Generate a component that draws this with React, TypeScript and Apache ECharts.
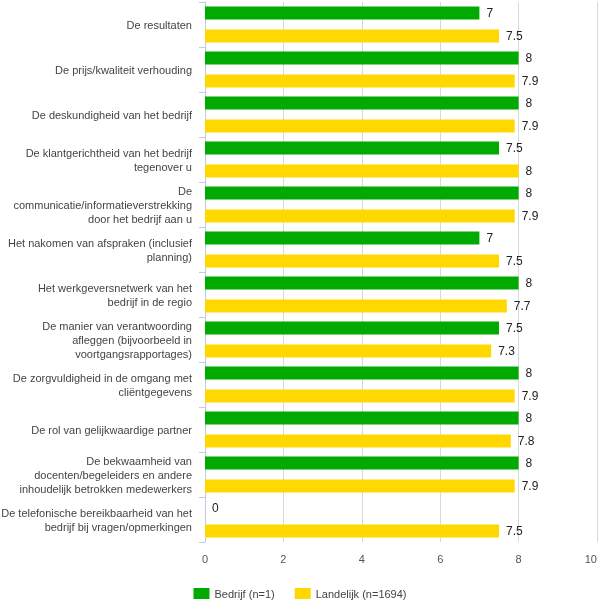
import React, { useEffect, useRef } from "react";
import * as echarts from "echarts";

const categories = [
  "De resultaten",
  "De prijs/kwaliteit verhouding",
  "De deskundigheid van het bedrijf",
  "De klantgerichtheid van het bedrijf\ntegenover u",
  "De\ncommunicatie/informatieverstrekking\ndoor het bedrijf aan u",
  "Het nakomen van afspraken (inclusief\nplanning)",
  "Het werkgeversnetwerk van het\nbedrijf in de regio",
  "De manier van verantwoording\nafleggen (bijvoorbeeld in\nvoortgangsrapportages)",
  "De zorgvuldigheid in de omgang met\ncliëntgegevens",
  "De rol van gelijkwaardige partner",
  "De bekwaamheid van\ndocenten/begeleiders en andere\ninhoudelijk betrokken medewerkers",
  "De telefonische bereikbaarheid van het\nbedrijf bij vragen/opmerkingen",
];

const bedrijf = [7, 8, 8, 7.5, 8, 7, 8, 7.5, 8, 8, 8, 0];
const landelijk = [7.5, 7.9, 7.9, 8, 7.9, 7.5, 7.7, 7.3, 7.9, 7.8, 7.9, 7.5];

const seriesNames = ["Bedrijf (n=1)", "Landelijk (n=1694)"];
const xTicks = ["0", "2", "4", "6", "8", "10"];

export default function App() {
  const ref = useRef<HTMLDivElement>(null);
  useEffect(() => {
    if (!ref.current) return;
    const chart = echarts.init(ref.current, undefined, { renderer: "svg" });
    const font = "Arial, 'Liberation Sans', sans-serif";
    const labelStyle = {
      show: true,
      position: "right" as const,
      distance: 7,
      color: "#222",
      fontSize: 12,
      fontFamily: font,
    };
    chart.setOption({
      animation: false,
      textStyle: { fontFamily: font },
      grid: {
        left: 205,
        right: 3,
        top: 2,
        bottom: 62,
        containLabel: false,
        outerBoundsMode: "none",
      },
      xAxis: {
        type: "value",
        min: 0,
        max: 10,
        interval: 2,
        axisLine: { show: false },
        axisTick: { show: false },
        axisLabel: {
          color: "#555",
          fontSize: 11,
          margin: 11,
          fontFamily: font,
          alignMaxLabel: "right",
          formatter: (v: number) => xTicks[Math.round(v / 2)] ?? String(v),
        },
        splitLine: { show: true, lineStyle: { color: "#d8d8d8", width: 1 } },
      },
      yAxis: {
        type: "category",
        inverse: true,
        data: categories,
        axisLine: { show: true, lineStyle: { color: "#c0cbdc", width: 1 } },
        axisTick: { show: true, length: 6, lineStyle: { color: "#c0cbdc" } },
        axisLabel: {
          color: "#444",
          fontSize: 11,
          lineHeight: 14,
          margin: 13,
          align: "right",
          fontFamily: font,
        },
      },
      legend: {
        left: "center",
        top: 583,
        itemWidth: 16,
        itemHeight: 11,
        itemGap: 20,
        icon: "rect",
        textStyle: { color: "#444", fontSize: 11, fontFamily: font },
        data: seriesNames,
      },
      series: [
        {
          name: seriesNames[0],
          type: "bar",
          data: bedrijf,
          barWidth: 13,
          barGap: "77%",
          itemStyle: { color: "#00aa00" },
          label: labelStyle,
        },
        {
          name: seriesNames[1],
          type: "bar",
          data: landelijk,
          barWidth: 13,
          barGap: "77%",
          itemStyle: { color: "#ffd800" },
          label: labelStyle,
        },
      ],
    });
    return () => chart.dispose();
  }, []);
  return (
    <div
      ref={ref}
      style={{ width: 600, height: 604, position: "fixed", left: 0, top: 0 }}
    />
  );
}
